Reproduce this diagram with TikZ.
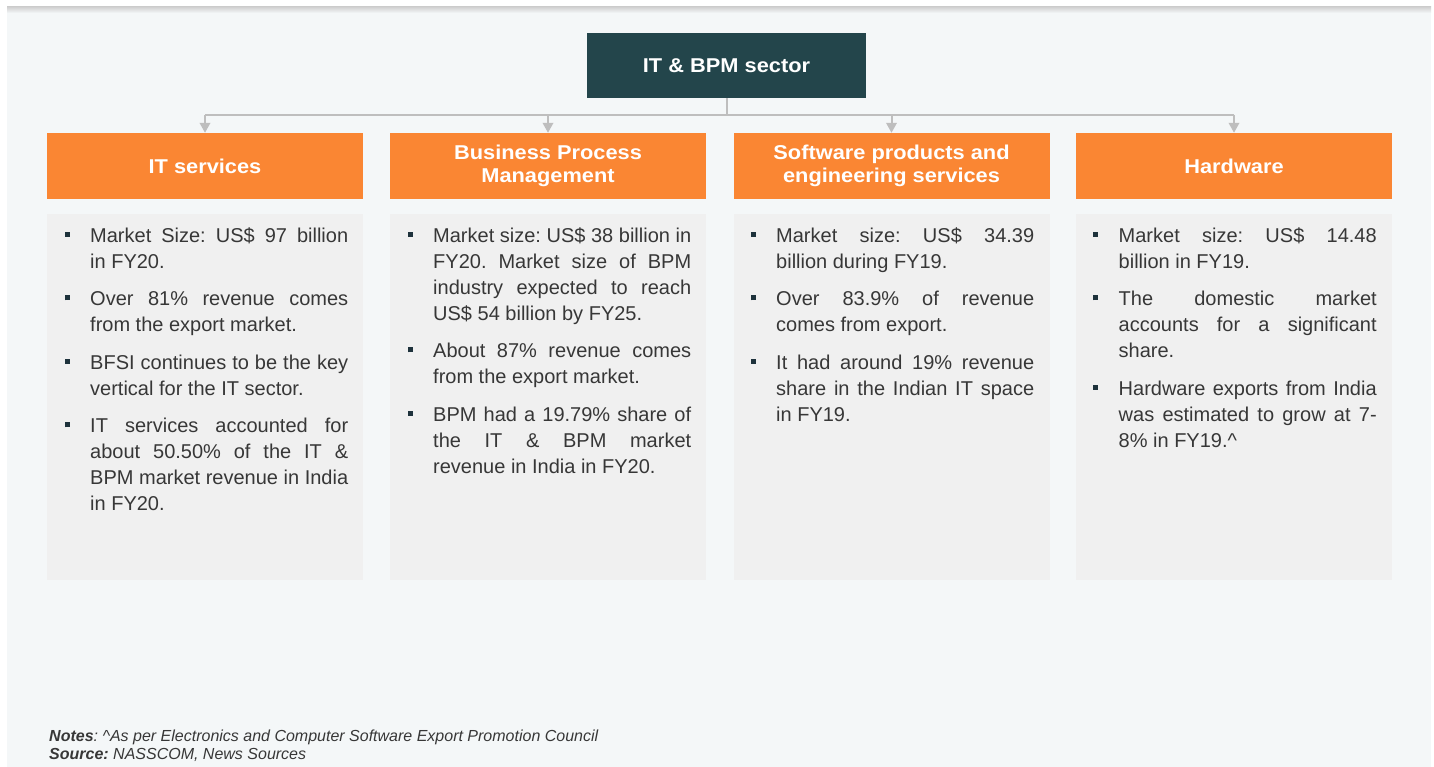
\documentclass[tikz,border=0pt]{standalone}
\usepackage{fontspec}
\setmainfont{Liberation Sans}
\newfontfamily\hfont[FakeStretch=1.09]{Liberation Sans}
\usetikzlibrary{arrows.meta}
\definecolor{panel}{RGB}{244,247,248}
\definecolor{boxgray}{RGB}{240,240,240}
\definecolor{orangeh}{RGB}{250,134,51}
\definecolor{topteal}{RGB}{35,69,75}
\definecolor{connc}{RGB}{190,190,190}
\definecolor{bodytxt}{RGB}{55,55,55}
\definecolor{bulc}{RGB}{30,50,60}
\frenchspacing
\newcommand{\bitem}{\par\noindent\llap{\textcolor{bulc}{\rule[5.2pt]{5pt}{5pt}}\hspace{20.5pt}}\strut}
\newcommand{\bodysetup}{\frenchspacing\setlength{\parskip}{11.5pt}\tolerance=9999 \hbadness=10000 \hyphenpenalty=10000 }
\tikzset{
  hdr/.style={fill=orangeh, text=white, minimum width=316pt, minimum height=66pt, inner sep=0pt, align=center,
    font=\hfont\bfseries\fontsize{20}{22.5}\selectfont},
  topbox/.style={fill=topteal, text=white, minimum width=279pt, minimum height=65.5pt, inner sep=0pt,
    font=\hfont\bfseries\fontsize{20}{22.5}\selectfont},
  bodybox/.style={fill=boxgray, minimum width=316pt, minimum height=366pt, inner sep=0pt, anchor=north},
  bodytext/.style={text width=258pt, align=justify, inner sep=0pt, anchor=north west, text=bodytxt,
    font=\fontsize{20}{26}\selectfont},
  notes/.style={inner sep=0pt, anchor=base west, text=bodytxt, font=\itshape\fontsize{16}{18}\selectfont},
  connector/.style={draw=connc, line width=2pt},
  arrowc/.style={connector, -{Triangle[width=10.5pt,length=10pt]}}
}
\begin{document}
\begin{tikzpicture}[x=1pt,y=-1pt]
\useasboundingbox (0,0) rectangle (1434,767);
\fill[white] (0,0) rectangle (1434,767);
\fill[panel] (7,8) rectangle (1431,767);
\shade[top color=black!18, bottom color=panel] (7,7) rectangle (1431,13);

\node[topbox] (top) at (726.5,65.5) {IT \& BPM sector};

\node[hdr] (h1) at (205,166) {IT services};
\node[hdr] (h2) at (548,166) {Business Process\\Management};
\node[hdr] (h3) at (891.5,166) {Software products and\\engineering services};
\node[hdr] (h4) at (1234,166) {Hardware};

\coordinate (jn) at (726.5,115);
\draw[connector] (top.south) -- (top.south |- jn);
\draw[connector] (h1.north |- jn) -- (h4.north |- jn);
\foreach \i in {1,2,3,4}{
  \draw[arrowc] (h\i.north |- jn) -- (h\i.north);
}

\node[bodybox] (b1) at (205,214) {};
\node[bodybox] (b2) at (548,214) {};
\node[bodybox] (b3) at (891.5,214) {};
\node[bodybox] (b4) at (1234,214) {};

\node[bodytext] (t1) at (90,204.5) {\bodysetup
\bitem Market Size: US\$ 97 billion\linebreak in FY20.
\bitem Over 81\% revenue comes\linebreak from the export market.
\bitem BFSI continues to be the key\linebreak vertical for the IT sector.
\bitem IT services accounted for\linebreak about 50.50\% of the IT \&\linebreak BPM market revenue in India\linebreak in FY20.};

\node[bodytext] (t2) at (433,204.5) {\bodysetup
\bitem Market size: US\$ 38 billion in\linebreak FY20. Market size of BPM\linebreak industry expected to reach\linebreak US\$ 54 billion by FY25.
\bitem About 87\% revenue comes\linebreak from the export market.
\bitem BPM had a 19.79\% share of\linebreak the IT \& BPM market\linebreak revenue in India in FY20.};

\node[bodytext] (t3) at (776,204.5) {\bodysetup
\bitem Market size: US\$ 34.39\linebreak billion during FY19.
\bitem Over 83.9\% of revenue\linebreak comes from export.
\bitem It had around 19\% revenue\linebreak share in the Indian IT space\linebreak in FY19.};

\node[bodytext] (t4) at (1118.5,204.5) {\bodysetup
\bitem Market size: US\$ 14.48\linebreak billion in FY19.
\bitem The domestic market\linebreak accounts for a significant\linebreak share.
\bitem Hardware exports from India\linebreak was estimated to grow at 7-\linebreak 8\% in FY19.\textasciicircum};

\node[notes] (n1) at (49,741) {\textbf{Notes}: \textasciicircum As per Electronics and Computer Software Export Promotion Council};
\node[notes] (n2) at (49,759) {\textbf{Source:} NASSCOM, News Sources};
\end{tikzpicture}
\end{document}
